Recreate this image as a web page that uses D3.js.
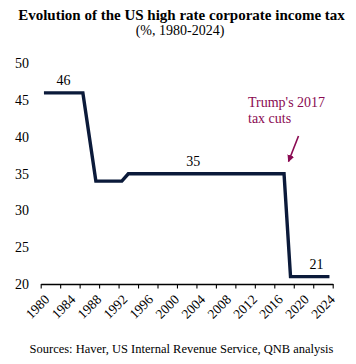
<!DOCTYPE html>
<html>
<head>
<meta charset="utf-8">
<script src="https://cdn.jsdelivr.net/npm/d3@7"></script>
<style>
  html, body { margin: 0; padding: 0; background: #fff; }
  svg { display: block; }
  text { font-family: "Liberation Serif", "Times New Roman", serif; }
</style>
</head>
<body>
<svg id="chart" width="356" height="364"></svg>
<script>
const years = [1980,1981,1982,1983,1984,1985,1986,1987,1988,1989,1990,1991,1992,1993,1994,1995,1996,1997,1998,1999,2000,2001,2002,2003,2004,2005,2006,2007,2008,2009,2010,2011,2012,2013,2014,2015,2016,2017,2018,2019,2020,2021,2022,2023,2024];
const rates = [46,46,46,46,46,46,46,40,34,34,34,34,34,35,35,35,35,35,35,35,35,35,35,35,35,35,35,35,35,35,35,35,35,35,35,35,35,35,21,21,21,21,21,21,21];
const yTicks = [20,25,30,35,40,45,50];
const xLabelYears = [1980,1984,1988,1992,1996,2000,2004,2008,2012,2016,2020,2024];
const xTickYears = [1980,1983,1986,1989,1992,1995,1998,2001,2004,2007,2010,2013,2016,2019,2022,2025];
const valueLabels = [
  {year: 1983, value: 46, text: "46"},
  {year: 2003, value: 35, text: "35"},
  {year: 2022, value: 21, text: "21"}
];
const title = "Evolution of the US high rate corporate income tax";
const subtitle = "(%, 1980-2024)";
const annotation = ["Trump's 2017", "tax cuts"];
const source = "Sources: Haver, US Internal Revenue Service, QNB analysis";

const svg = d3.select("#chart");
const mLeft = 40.7, mRight = 332.7, mTop = 63.5, mBottom = 284;

const xEdge = d3.scaleLinear().domain([1980, 2025]).range([mLeft, mRight]);
const x = d => xEdge(d + 0.5);
const y = d3.scaleLinear().domain([20, 50]).range([mBottom, mTop]);

// Title
svg.append("text").attr("x", 181.5).attr("y", 20).attr("text-anchor", "middle")
  .attr("font-size", 15).attr("font-weight", "bold").attr("fill", "#000").text(title);
svg.append("text").attr("x", 180).attr("y", 35).attr("text-anchor", "middle")
  .attr("font-size", 14).attr("fill", "#000").text(subtitle);

// Y axis labels (no line)
const yAxis = d3.axisLeft(y).tickValues(yTicks).tickSize(0).tickPadding(0);
const gy = svg.append("g").attr("transform", `translate(29,0)`).call(yAxis);
gy.select(".domain").remove();
gy.attr("font-family", null).attr("font-size", null);
gy.selectAll("text").attr("font-size", 14).attr("fill", "#000");

// X axis
const xAxis = d3.axisBottom(xEdge).tickValues(xTickYears).tickFormat("").tickSize(4.5).tickSizeOuter(0);
const gx = svg.append("g").attr("transform", `translate(0,${mBottom})`).call(xAxis);
gx.select(".domain").attr("stroke", "#000").attr("stroke-width", 1.3);
gx.selectAll(".tick line").attr("stroke", "#000").attr("stroke-width", 1.1);

svg.append("g").selectAll("text").data(xLabelYears).join("text")
  .attr("transform", d => `translate(${x(d) + 3},${mBottom + 13}) rotate(-45)`)
  .attr("text-anchor", "end")
  .attr("dy", "0.35em")
  .attr("font-size", 13.5)
  .attr("fill", "#000")
  .text(d => d);

// Line
const line = d3.line().x((d, i) => x(years[i])).y(d => y(d));
svg.append("path").datum(rates)
  .attr("d", line)
  .attr("fill", "none")
  .attr("stroke", "#0b1a3a")
  .attr("stroke-width", 3.4)
  .attr("stroke-linejoin", "miter");

// Value labels
svg.append("g").selectAll("text").data(valueLabels).join("text")
  .attr("x", d => x(d.year))
  .attr("y", d => y(d.value) - 8)
  .attr("text-anchor", "middle")
  .attr("font-size", 14)
  .attr("fill", "#000")
  .text(d => d.text);

// Annotation
const ann = svg.append("g");
ann.selectAll("text").data(annotation).join("text")
  .attr("x", 248).attr("y", (d, i) => 106.5 + i * 16.5)
  .attr("font-size", 14).attr("fill", "#8a0a52").text(d => d);

svg.append("defs").append("marker")
  .attr("id", "arrow").attr("viewBox", "0 0 10 10").attr("refX", 9).attr("refY", 5)
  .attr("markerWidth", 4.5).attr("markerHeight", 4.5).attr("orient", "auto")
  .append("path").attr("d", "M0,0 L10,5 L0,10 Z").attr("fill", "#8a0a52");
ann.append("line")
  .attr("x1", 298.5).attr("y1", 136).attr("x2", 288.5).attr("y2", 161.5)
  .attr("stroke", "#8a0a52").attr("stroke-width", 1.6)
  .attr("marker-end", "url(#arrow)");

// Source
svg.append("text").attr("x", 181.5).attr("y", 353).attr("text-anchor", "middle")
  .attr("font-size", 12.5).attr("fill", "#000").text(source);
</script>
</body>
</html>
